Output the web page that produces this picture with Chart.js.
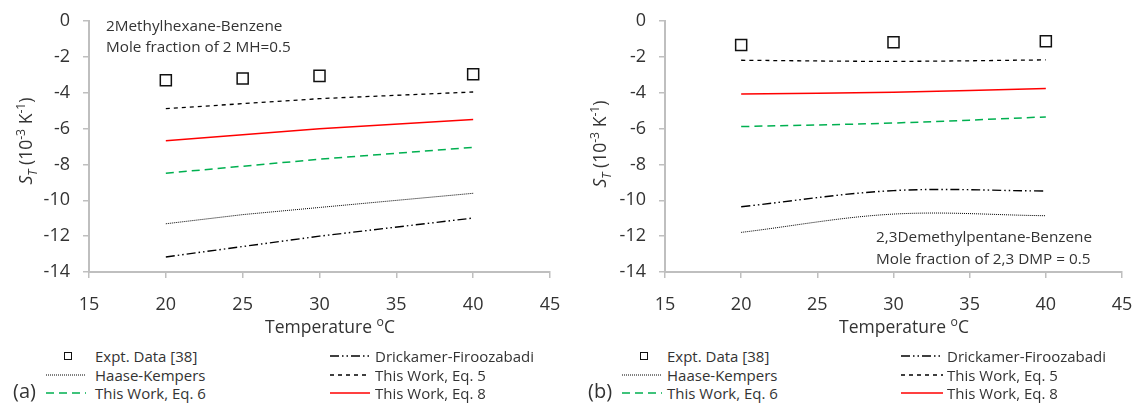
<!DOCTYPE html>
<html>
<head>
<meta charset="utf-8">
<script src="https://cdn.jsdelivr.net/npm/chart.js@4"></script>
<style>
  body { margin: 0; background: #fff; font-family: "Open Sans", sans-serif; color: #333; }
  #wrap { position: relative; width: 1132px; height: 403px; overflow: hidden; }
  .box { position: absolute; top: 0; height: 320px; }
  .ytitle { position: absolute; font-size: 17.5px; white-space: nowrap; transform: translate(-50%, -50%) rotate(-90deg); }
  .xtitle { position: absolute; font-size: 17.5px; white-space: nowrap; transform: translate(-50%, -50%); }
  .note { position: absolute; font-size: 15.3px; line-height: 21px; white-space: nowrap; }
  .leg { position: absolute; font-size: 15px; line-height: 16px; white-space: nowrap; transform: translateY(-50%); }
  .panel { position: absolute; font-size: 20px; line-height: 20px; transform: translateY(-50%); }
  svg.sample { position: absolute; overflow: visible; }
  sup, sub { font-size: 70%; line-height: 0; }
</style>
</head>
<body>
<div id="wrap">
  <div class="box" style="left:0;width:570px"><canvas id="chartA"></canvas></div>
  <div class="box" style="left:570px;width:562px"><canvas id="chartB"></canvas></div>
</div>
<script>
// temperatures (oC)
const tempA = [20, 25, 30, 40];
const tempB = [20, 30, 40];

// (a) 2-methylhexane / benzene, S_T in 10^-3 1/K
const exptA = [-3.30, -3.21, -3.06, -2.97];
const drickamerA = [-13.16, -12.58, -12.00, -10.99];
const haaseA = [-11.31, -10.80, -10.40, -9.61];
const eq5A = [-4.89, -4.61, -4.33, -3.96];
const eq6A = [-8.49, -8.10, -7.71, -7.05];
const eq8A = [-6.68, -6.35, -6.01, -5.49];

// (b) 2,3-dimethylpentane / benzene
const exptB = [-1.34, -1.19, -1.13];
const drickamerB = [-10.36, -9.46, -9.48];
const haaseB = [-11.79, -10.77, -10.86];
const eq5B = [-2.19, -2.25, -2.17];
const eq6B = [-5.89, -5.69, -5.35];
const eq8B = [-4.07, -3.98, -3.76];

const yTicks = [0, -2, -4, -6, -8, -10, -12, -14];
const xTicks = [15, 20, 25, 30, 35, 40, 45];

const seriesNames = ['Expt. Data [38]', 'Drickamer-Firoozabadi', 'Haase-Kempers',
  'This Work, Eq. 5', 'This Work, Eq. 6', 'This Work, Eq. 8'];

const styles = {
  drickamer: { color: '#000', width: 1.4, dash: [9, 3, 1.5, 3, 1.5, 3] },
  haase: { color: '#000', width: 1, dash: [1, 1] },
  eq5: { color: '#000', width: 1.3, dash: [4, 4] },
  eq6: { color: '#00b050', width: 1.5, dash: [8, 5] },
  eq8: { color: '#ff0000', width: 1.5, dash: [] }
};

const CH = 320; // canvas height

function pts(xs, ys) { return xs.map((x, i) => ({ x: x, y: ys[i] })); }

function lineSet(label, xs, ys, st, tension) {
  return {
    label: label, data: pts(xs, ys), showLine: true, pointRadius: 0,
    borderColor: st.color, borderWidth: st.width, borderDash: st.dash,
    tension: tension, fill: false
  };
}

function noPad(s) { s.paddingLeft = 0; s.paddingRight = 0; s.paddingTop = 0; s.paddingBottom = 0; }

function makeChart(id, area, xs, d, tension) {
  const cv = document.getElementById(id);
  return new Chart(cv, {
    type: 'scatter',
    data: {
      datasets: [
        { label: seriesNames[0], data: pts(xs, d.expt), pointStyle: 'rect', pointRadius: 7.8,
          pointBorderWidth: 1.5, borderColor: '#111', backgroundColor: 'rgba(0,0,0,0)', showLine: false },
        lineSet(seriesNames[1], xs, d.drick, styles.drickamer, tension),
        lineSet(seriesNames[2], xs, d.haase, styles.haase, tension),
        lineSet(seriesNames[3], xs, d.eq5, styles.eq5, tension),
        lineSet(seriesNames[4], xs, d.eq6, styles.eq6, tension),
        lineSet(seriesNames[5], xs, d.eq8, styles.eq8, tension)
      ]
    },
    options: {
      responsive: false, animation: false, devicePixelRatio: 1,
      layout: { padding: { left: 0, right: area.w - area.right, top: area.top, bottom: 0 } },
      plugins: { legend: { display: false }, tooltip: { enabled: false } },
      scales: {
        x: {
          type: 'linear', min: 15, max: 45,
          afterBuildTicks: s => { s.ticks = xTicks.map(v => ({ value: v })); },
          afterFit: s => { s.height = CH - area.bottom; noPad(s); },
          grid: { drawOnChartArea: false, drawTicks: true, tickLength: 6, color: '#bfbfbf', lineWidth: 1.5 },
          border: { color: '#bfbfbf', width: 2 },
          ticks: { color: '#333', font: { family: 'Open Sans', size: 18 }, padding: 16, maxRotation: 0 }
        },
        y: {
          type: 'linear', min: -14, max: 0,
          afterBuildTicks: s => { s.ticks = yTicks.map(v => ({ value: v })); },
          afterFit: s => { s.width = area.left; noPad(s); },
          grid: { drawOnChartArea: false, drawTicks: true, tickLength: 6, color: '#bfbfbf', lineWidth: 1.5 },
          border: { color: '#bfbfbf', width: 2 },
          ticks: { color: '#333', font: { family: 'Open Sans', size: 18 }, padding: 13 }
        }
      }
    }
  });
}

function sizeCanvas(id, w) {
  const c = document.getElementById(id);
  c.width = w; c.height = CH; c.style.width = w + 'px'; c.style.height = CH + 'px';
}
sizeCanvas('chartA', 570);
sizeCanvas('chartB', 562);

makeChart('chartA', { w: 570, left: 89, right: 550, top: 21, bottom: 272 }, tempA,
  { expt: exptA, drick: drickamerA, haase: haaseA, eq5: eq5A, eq6: eq6A, eq8: eq8A }, 0);
makeChart('chartB', { w: 562, left: 95, right: 552, top: 21, bottom: 272 }, tempB,
  { expt: exptB, drick: drickamerB, haase: haaseB, eq5: eq5B, eq6: eq6B, eq8: eq8B }, 0.35);

// text and legends
const wrap = document.getElementById('wrap');
function add(html, cls, css) {
  const el = document.createElement('div');
  el.className = cls; el.innerHTML = html; el.style.cssText = css;
  wrap.appendChild(el);
  return el;
}
const yTitle = '<i>S<sub>T</sub></i> (10<sup>-3</sup> K<sup>-1</sup>)';
const xTitle = 'Temperature <sup>o</sup>C';

function sample(x1, x2, y, st) {
  const svg = document.createElementNS('http://www.w3.org/2000/svg', 'svg');
  svg.setAttribute('class', 'sample');
  svg.setAttribute('width', x2 - x1); svg.setAttribute('height', 4);
  svg.style.left = x1 + 'px'; svg.style.top = (y - 2) + 'px';
  svg.innerHTML = '<line x1="0" y1="2" x2="' + (x2 - x1) + '" y2="2" stroke="' + st.color +
    '" stroke-width="' + st.width + '" stroke-dasharray="' + (st.dash.length ? st.dash.join(',') : 'none') + '"/>';
  wrap.appendChild(svg);
}
function squareSample(cx, cy) {
  add('', 'sq', 'position:absolute;left:' + (cx - 4.5) + 'px;top:' + (cy - 4.5) +
    'px;width:6px;height:6px;border:1.5px solid #111;');
}

function legend(o) {
  const rows = [356, 375, 393];
  squareSample((o.c1a + o.c1b) / 2 + 2, rows[0]);
  add(seriesNames[0], 'leg', 'left:' + o.t1 + 'px;top:' + rows[0] + 'px');
  sample(o.c1a, o.c1b, rows[1], styles.haase);
  add(seriesNames[2], 'leg', 'left:' + o.t1 + 'px;top:' + rows[1] + 'px');
  sample(o.c1a, o.c1b, rows[2], styles.eq6);
  add(seriesNames[4], 'leg', 'left:' + o.t1 + 'px;top:' + rows[2] + 'px');
  sample(o.c2a, o.c2b, rows[0], styles.drickamer);
  add(seriesNames[1], 'leg', 'left:' + o.t2 + 'px;top:' + rows[0] + 'px');
  sample(o.c2a, o.c2b, rows[1], styles.eq5);
  add(seriesNames[3], 'leg', 'left:' + o.t2 + 'px;top:' + rows[1] + 'px');
  sample(o.c2a, o.c2b, rows[2], styles.eq8);
  add(seriesNames[5], 'leg', 'left:' + o.t2 + 'px;top:' + rows[2] + 'px');
  add(o.tag, 'panel', 'left:' + o.tagX + 'px;top:391px');
}

// panel (a)
add(yTitle, 'ytitle', 'left:25px;top:141px');
add(xTitle, 'xtitle', 'left:330px;top:326px');
add('2Methylhexane-Benzene<br>Mole fraction of 2 MH=0.5', 'note', 'left:106px;top:15px');
legend({ c1a: 46, c1b: 86, t1: 95, c2a: 330, c2b: 370, t2: 375, tag: '(a)', tagX: 13 });

// panel (b)
add(yTitle, 'ytitle', 'left:599px;top:144px');
add(xTitle, 'xtitle', 'left:904px;top:326px');
add('2,3Demethylpentane-Benzene<br>Mole fraction of 2,3 DMP = 0.5', 'note', 'left:876px;top:225px;line-height:22px');
legend({ c1a: 622, c1b: 662, t1: 667, c2a: 901, c2b: 943, t2: 947, tag: '(b)', tagX: 588 });
</script>
</body>
</html>
